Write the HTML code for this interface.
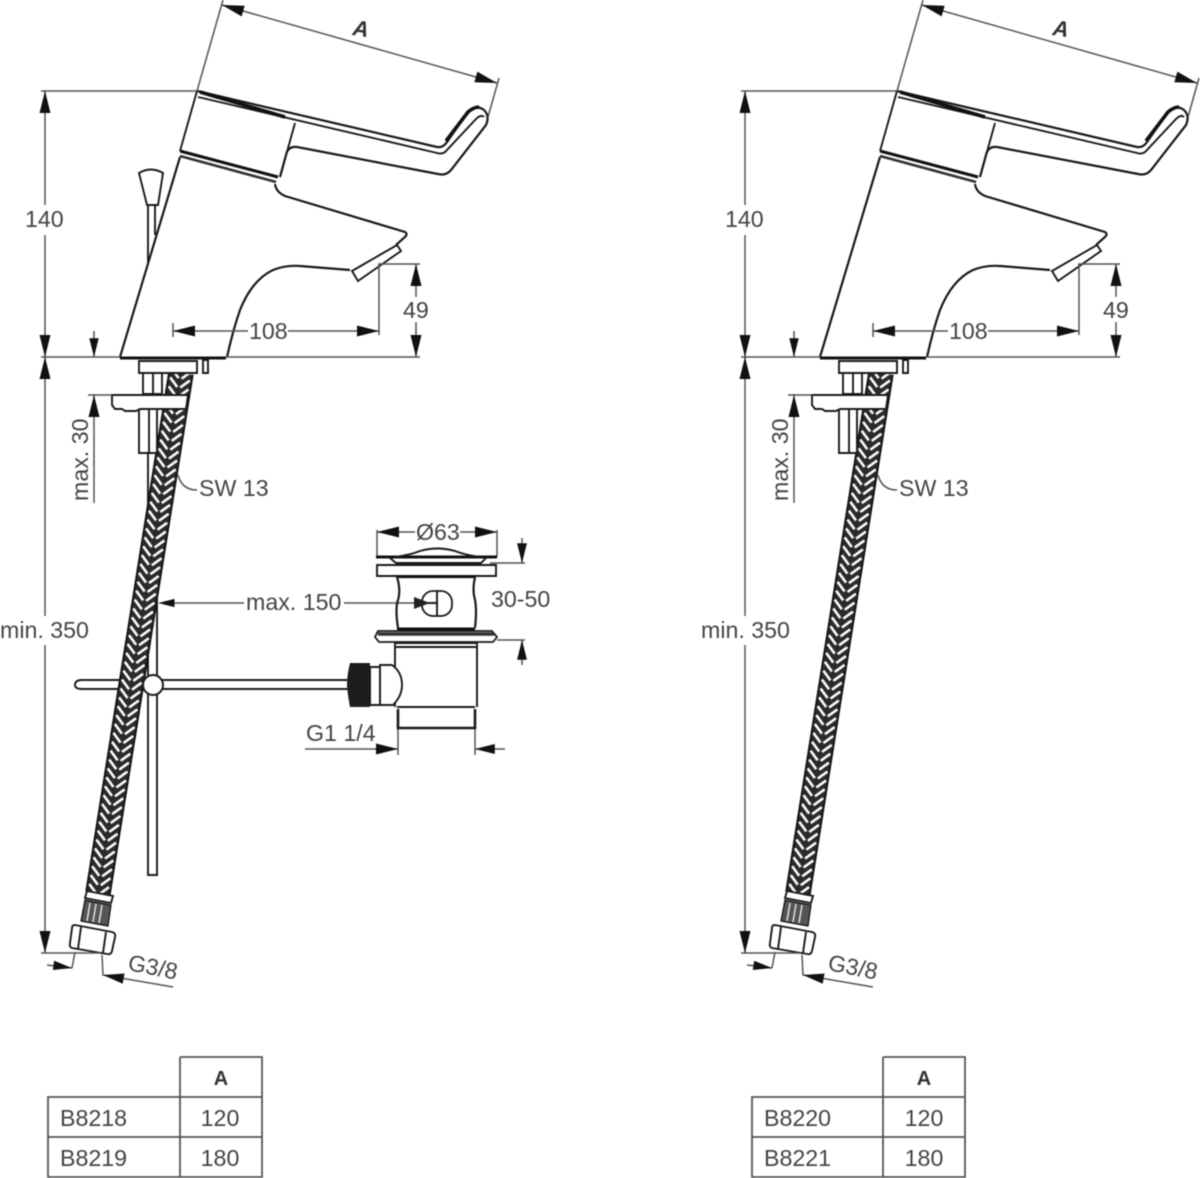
<!DOCTYPE html>
<html><head><meta charset="utf-8"><style>
html,body{margin:0;padding:0;background:#fff}
svg{display:block;filter:blur(.6px)}
text{font-family:"Liberation Sans",sans-serif;font-size:23.2px;fill:#444}
.d{stroke:#555;stroke-width:1.5;fill:none}
.o{stroke:#1a1a1a;stroke-width:1.9;fill:none}
.ow{stroke:#1a1a1a;stroke-width:1.9;fill:#fff}
.k{stroke:#111;stroke-width:3;fill:none}
.t{stroke:#555;stroke-width:1.8;fill:none}
</style></head><body>
<svg width="1200" height="1178" viewBox="0 0 1200 1178" xmlns="http://www.w3.org/2000/svg">
<defs>
<path id="ar" d="M0,0 L22,-5.5 L22,5.5Z" fill="#111"/>
<pattern id="br" width="24" height="9" patternUnits="userSpaceOnUse" x="-12">
<rect width="24" height="9" fill="#2a2a2a"/>
<path d="M2,-3 L10.5,5.5 M22,-3 L13.5,5.5 M2,6 L10.5,14.5 M22,6 L13.5,14.5" stroke="#fff" stroke-width="2.6" fill="none"/>
</pattern>
</defs>
<rect width="1200" height="1178" fill="#fff"/>

<!-- left only: lift rod -->
<path class="o" d="M148,205V262M155,205V235"/>
<path class="ow" d="M139,173Q151,166 163,173L158,205H147Z"/>
<path class="o" d="M148,453V875H157V453"/>

<g id="f">
  <!-- hose -->
  <g transform="translate(181,373) rotate(9.07)">
    <rect x="-12" y="0" width="24" height="527" fill="url(#br)"/>
    <path d="M-12,0V527M12,0V527" stroke="#111" stroke-width="1.6"/>
  </g>
  <!-- hose end -->
  <path class="ow" d="M87,891L113,896L111,903L85,898Z"/>
  <path d="M85,900L111,905L108,926L81,921Z" fill="#555" stroke="#111" stroke-width="1.2"/>
  <path d="M90,903L87,921M96,904L93,922M102,905L99,923" stroke="#ddd" stroke-width="1.6"/>
  <path class="ow" d="M75,925L112,932Q116,933 115,937L112,951Q111,955 107,954L72,948Q69,947 70,943L72,928Q72,925 75,925Z"/>
  <path class="o" d="M81,927L78,949M106,932L103,953"/>
  <!-- under-deck -->
  <path class="ow" d="M139,361H197V373H139ZM203,360H208V373H203Z"/>
  <path class="ow" d="M143,373H162V394H143Z"/>
  <path class="o" d="M153,373V394"/>
  <path class="ow" d="M139,409H157V453H139Z"/>
  <path class="o" d="M149,409V453"/>
  <path class="ow" d="M112,395H188L186,409H140L136,411H125L122,409H115L112,405Z"/>
  <!-- body -->
  <path d="M120,357L180,155L277,181L283,195L406,232L396,243L352,271L300,266Q273,266 250,290Q238,305 227,357Z" fill="#fff"/>
  <path class="o" style="stroke-width:2.2" d="M120,357L180,157"/>
  <path class="k" d="M120,358H226"/>
  <path class="o" style="stroke-width:2.2" d="M227,357Q233,330 240,310Q252,280 273,270Q285,265 300,266L350,270"/>
  <path class="o" style="stroke-width:2.2" d="M275,184Q276,192 285,196L405,232Q408,234 405,237L396,245"/>
  <path class="ow" d="M352,271L397,245L401,251L358,281Z"/>
  <!-- handle -->
  <path class="o" d="M197,91L180,151M295,123L280,177"/>
  <path class="k" d="M180,151L278,177" />
  <path class="o" style="stroke:#333;stroke-width:2.6" d="M180,156L276,182"/>
  <path class="o" style="stroke-width:2.2" d="M197,91L437,147Q443,148 447,142L468,112Q476,104 484,110Q490,116 486,125L451,170Q446,176 438,174L297,147Q288,146 286,155L280,177"/>
  <path class="o" d="M198,97L437,153Q443,155 447,150L476,119Q481,114 484,117"/>
  <path stroke="#111" stroke-width="3.6" fill="none" d="M200,92L285,117M446,141L468,112Q474,107 479,107"/>
  <!-- dimension lines -->
  <path class="d" d="M41,91H197M45,91V205M45,235V357M41,357H120M226,357H420M45,357V616M45,645V953M41,953H100"/>
  <path class="d" d="M94,331V357M94,394V503M88,395H112"/>
  <path class="d" d="M173,323V337M173,331H248M288,331H379M379,264V335M378,264H420M416,264V297M416,322V357"/>
  <path class="d" d="M197,91L223,0M222,5L497,83M488,117L499,78"/>
  <use href="#ar" transform="translate(45,91) rotate(90)"/>
  <use href="#ar" transform="translate(45,357) rotate(-90)"/>
  <use href="#ar" transform="translate(45,357) rotate(90)"/>
  <use href="#ar" transform="translate(45,953) rotate(-90)"/>
  <use href="#ar" transform="translate(94,357) rotate(-90) scale(.85)"/>
  <use href="#ar" transform="translate(94,395) rotate(90)"/>
  <use href="#ar" transform="translate(173,331)"/>
  <use href="#ar" transform="translate(379,331) rotate(180)"/>
  <use href="#ar" transform="translate(416,264) rotate(90)"/>
  <use href="#ar" transform="translate(416,357) rotate(-90)"/>
  <use href="#ar" transform="translate(222,5) rotate(16)"/>
  <use href="#ar" transform="translate(497,83) rotate(196)"/>
  <!-- G3/8 dims -->
  <path class="d" d="M75,952L72,968M47,965L72,968M102,955L103,975L173,987M178,475Q182,490 197,490"/>
  <use href="#ar" transform="translate(72,968) rotate(188) scale(.85)"/>
  <use href="#ar" transform="translate(103,975) rotate(10) scale(.95)"/>
</g>
<use href="#f" x="700"/>

<!-- left only: pop-up rod horizontal -->
<path class="o" d="M350,680H82Q75,680 75,685Q75,689 82,689H350"/>
<g transform="translate(181,373) rotate(9.07)">
  <rect x="-12" y="270" width="24" height="99" fill="url(#br)"/>
  <path d="M-12,270V369M12,270V369" stroke="#111" stroke-width="1.6"/>
</g>
<circle cx="153" cy="685" r="10" fill="#fff" stroke="#1a1a1a" stroke-width="2"/>
<path class="d" d="M173,603H244M344,603H415"/>
<use href="#ar" transform="translate(158,603) scale(.75)"/>

<!-- waste -->
<path class="d" d="M377,530V557M497,530V557M377,532H415M460,532H497M490,563H525M522,538V563M497,640H525M522,640V665M398,728V755M475,728V755M305,749H398M475,749H505"/>
<use href="#ar" transform="translate(377,532)"/>
<use href="#ar" transform="translate(497,532) rotate(180)"/>
<use href="#ar" transform="translate(522,563) rotate(-90) scale(.9)"/>
<use href="#ar" transform="translate(522,640) rotate(90) scale(.9)"/>
<use href="#ar" transform="translate(398,749) rotate(180)"/>
<use href="#ar" transform="translate(475,749) scale(.9)"/>
<path class="k" d="M376,557H497"/>
<path class="o" d="M395,557Q410,555 420,551Q437,546 455,551Q465,555 480,557"/>
<path class="o" d="M390,558L396,563H481L486,558"/>
<path class="ow" d="M377,565H496V576H377Z"/>
<path class="k" style="stroke-width:2.2" d="M397,577H475"/>
<path class="o" style="stroke-width:2.2" d="M397,577Q401,590 398,600Q395,608 398,628M475,577Q472,590 475,600Q477,610 475,628"/>
<rect x="422" y="591" width="30" height="25" rx="11" fill="#fff" stroke="#1a1a1a" stroke-width="1.8"/>
<path class="o" d="M437,591V616"/>
<path class="o" d="M415,603H437"/>
<path d="M414,597V609L430,603Z" fill="#222"/>
<path class="k" d="M397,629H475"/>
<path d="M378,631H492L497,637L493,642H379L375,637Z" fill="#fff" stroke="#1a1a1a" stroke-width="1.8"/>
<path d="M378,634H494" stroke="#333" stroke-width="3.5"/>
<path class="o" d="M395,642V707M477,642V707M395,647H477M395,643H477"/>
<path class="o" d="M397,707H475"/>
<path class="o" style="stroke-width:2.6" d="M398,709V728H475V709"/>
<path d="M350,663H370V707H350Q347,690 347,685Q347,675 350,663Z" fill="#1c1c1c"/>
<path class="ow" d="M370,667H380V705H370Z"/>
<path class="ow" d="M380,665H392Q402,672 402,685Q402,696 393,705H380Z"/>

<!-- text -->
<text x="25" y="227">140</text>
<text x="725" y="227">140</text>
<text x="249" y="339">108</text>
<text x="949" y="339">108</text>
<text x="403" y="318">49</text>
<text x="1103" y="318">49</text>
<text x="0" y="638">min. 350</text>
<text x="701" y="638">min. 350</text>
<text transform="translate(88,501) rotate(-90)">max. 30</text>
<text transform="translate(788,501) rotate(-90)">max. 30</text>
<text x="199" y="496">SW 13</text>
<text x="899" y="496">SW 13</text>
<text transform="translate(127,970) rotate(11)" style="font-size:23px">G3/8</text>
<text transform="translate(827,970) rotate(11)" style="font-size:23px">G3/8</text>
<text transform="translate(352,35) rotate(8)" style="font-weight:bold;font-style:italic;fill:#333;font-size:22px">A</text>
<text transform="translate(1052,35) rotate(8)" style="font-weight:bold;font-style:italic;fill:#333;font-size:22px">A</text>
<text x="246" y="610">max. 150</text>
<text x="416" y="540">Ø63</text>
<text x="491" y="607">30-50</text>
<text x="306" y="741">G1 1/4</text>

<!-- tables -->
<path class="t" d="M180,1057H262V1177H48V1097H262M48,1137H262M180,1057V1177"/>
<path class="t" d="M883,1057H965V1177H752V1097H965M752,1137H965M883,1057V1177"/>
<text x="221" y="1085" text-anchor="middle" style="font-weight:bold;fill:#333;font-size:20px">A</text>
<text x="60" y="1126">B8218</text><text x="220" y="1126" text-anchor="middle">120</text>
<text x="60" y="1166">B8219</text><text x="220" y="1166" text-anchor="middle">180</text>
<text x="924" y="1085" text-anchor="middle" style="font-weight:bold;fill:#333;font-size:20px">A</text>
<text x="764" y="1126">B8220</text><text x="924" y="1126" text-anchor="middle">120</text>
<text x="764" y="1166">B8221</text><text x="924" y="1166" text-anchor="middle">180</text>
</svg>
</body></html>
